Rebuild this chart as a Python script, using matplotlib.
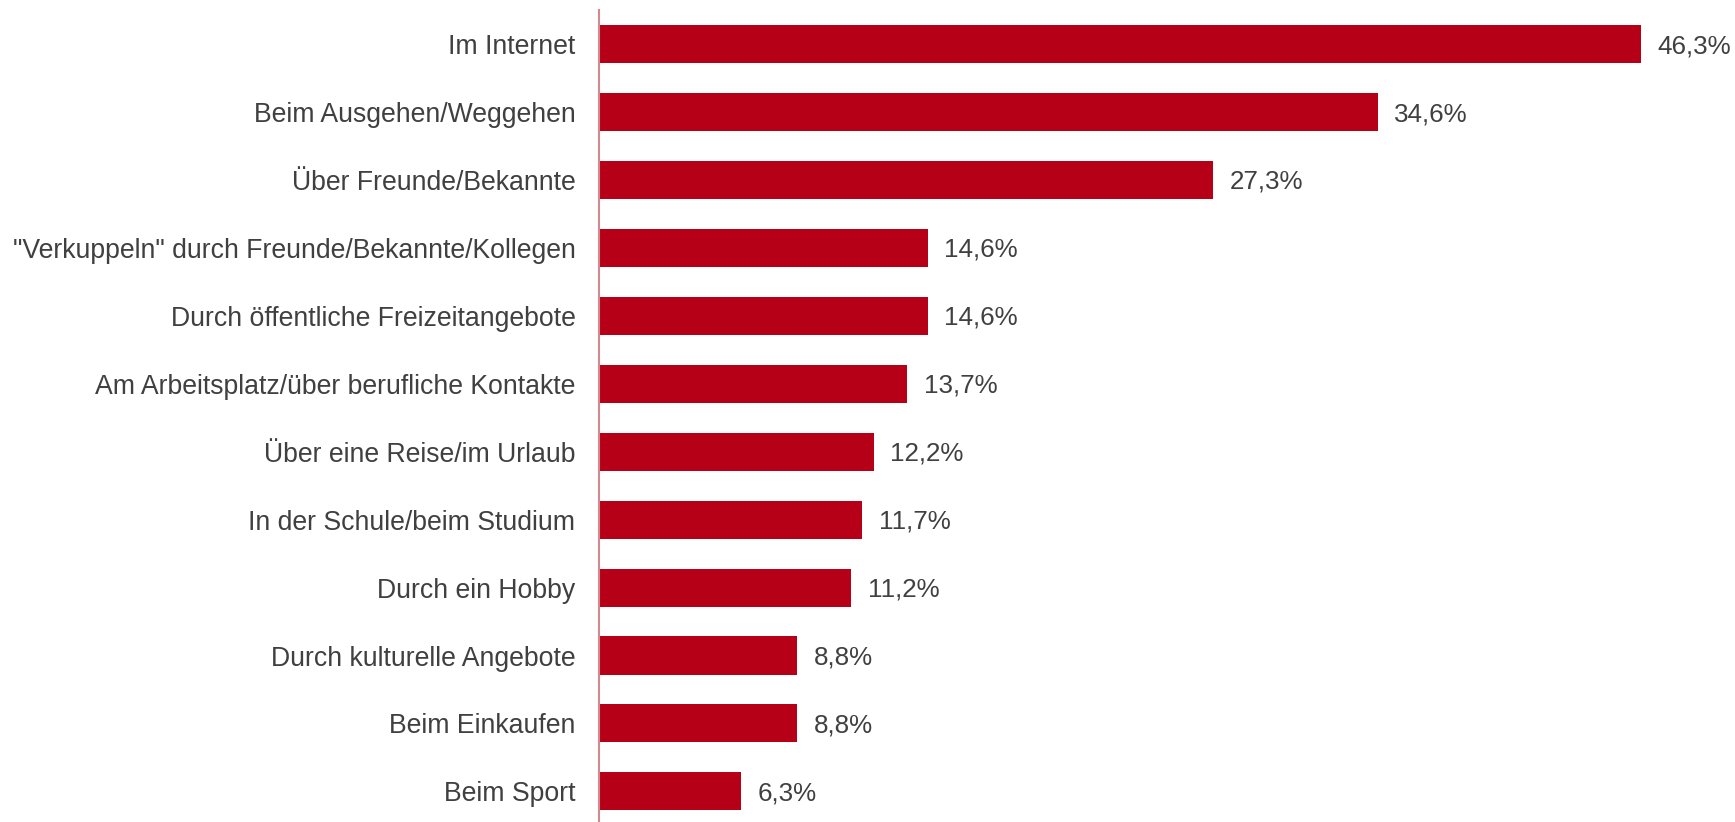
import matplotlib
matplotlib.use("Agg")
import matplotlib.pyplot as plt

categories = [
    "Im Internet",
    "Beim Ausgehen/Weggehen",
    "Über Freunde/Bekannte",
    "\"Verkuppeln\" durch Freunde/Bekannte/Kollegen",
    "Durch öffentliche Freizeitangebote",
    "Am Arbeitsplatz/über berufliche Kontakte",
    "Über eine Reise/im Urlaub",
    "In der Schule/beim Studium",
    "Durch ein Hobby",
    "Durch kulturelle Angebote",
    "Beim Einkaufen",
    "Beim Sport",
]
values = [46.3, 34.6, 27.3, 14.6, 14.6, 13.7, 12.2, 11.7, 11.2, 8.8, 8.8, 6.3]

plt.rcParams['font.family'] = ['Liberation Sans', 'DejaVu Sans']

fig = plt.figure(figsize=(17.35, 8.22), dpi=100)
ax = fig.add_axes([599 / 1735, 0, 1125 / 1735, 812 / 822])

pos = list(range(len(categories)))
ax.barh(pos, values, height=0.56, color='#b50018', edgecolor='none')
for y, v in zip(pos, values):
    ax.annotate(f"{v:.1f}%".replace(".", ","), (v, y), xytext=(12, -1.5),
                textcoords='offset points', va='center', ha='left',
                fontsize=18.7, color='#404040')

ax.set_xlim(0, 50)
ax.set_ylim(11.45, -0.5)
ax.set_yticks(pos)
ax.set_yticklabels(categories, fontsize=19.2, color='#404040',
                   va='center_baseline')
ax.tick_params(axis='y', length=0, pad=17)
ax.set_xticks([])
for s in ['top', 'right', 'bottom']:
    ax.spines[s].set_visible(False)
ax.spines['left'].set_color('#d08a8f')
ax.spines['left'].set_linewidth(1.5)

fig.savefig("out.png", dpi=100)
